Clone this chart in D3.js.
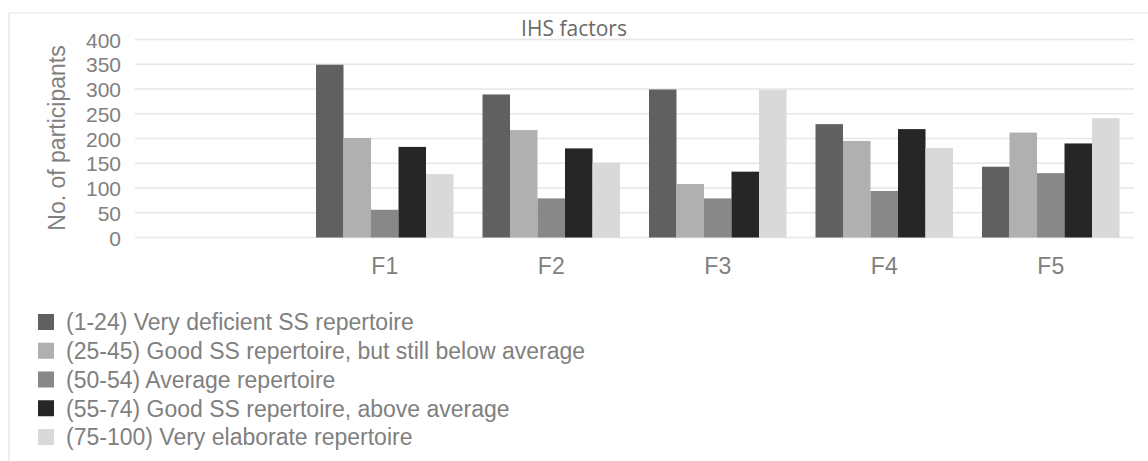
<!DOCTYPE html>
<html>
<head>
<meta charset="utf-8">
<script src="https://cdn.jsdelivr.net/npm/d3@7"></script>
<style>
  html, body { margin: 0; padding: 0; background: #fff; }
  svg { display: block; }
</style>
</head>
<body>
<svg id="chart" width="1148" height="461"></svg>
<script>
// Categories on the x axis (the first slot is left blank on purpose)
const categories = ["", "F1", "F2", "F3", "F4", "F5"];

// Score bands shown in the legend
const seriesNames = [
  "(1-24) Very deficient SS repertoire",
  "(25-45) Good SS repertoire, but still below average",
  "(50-54) Average repertoire",
  "(55-74) Good SS repertoire, above average",
  "(75-100) Very elaborate repertoire"
];

// Number of participants per factor, one array per score band
const veryDeficient   = [null, 349, 289, 299, 229, 143];
const goodBelowAvg    = [null, 201, 217, 108, 195, 212];
const average         = [null, 56, 79, 79, 94, 130];
const goodAboveAvg    = [null, 183, 180, 133, 219, 190];
const veryElaborate   = [null, 128, 151, 298, 181, 241];

const yTicks = [0, 50, 100, 150, 200, 250, 300, 350, 400];

const seriesValues = [veryDeficient, goodBelowAvg, average, goodAboveAvg, veryElaborate];
const seriesColors = ["#606060", "#b0b0b0", "#888888", "#262626", "#d9d9d9"];

const svg = d3.select("#chart");
const textColor = "#808080";
const sans = "'Liberation Sans', Arial, sans-serif";

// Outer chart frame (top and left edges are visible)
svg.append("line").attr("x1", 9).attr("x2", 1148).attr("y1", 13).attr("y2", 13)
  .attr("stroke", "#e3e3e3").attr("stroke-width", 1.2);
svg.append("line").attr("x1", 9).attr("x2", 9).attr("y1", 13).attr("y2", 461)
  .attr("stroke", "#e3e3e3").attr("stroke-width", 1.2);

const plotLeft = 135, plotRight = 1134;
const y = d3.scaleLinear().domain([0, 400]).range([237.5, 39.5]);
const x0 = d3.scaleBand().domain(categories).range([plotLeft, plotRight]).padding(0);
const x1 = d3.scaleBand().domain(d3.range(seriesNames.length))
  .range([14.5, x0.bandwidth() - 14.5]).padding(0);

// Horizontal gridlines
svg.append("g").selectAll("line").data(yTicks).join("line")
  .attr("x1", plotLeft).attr("x2", plotRight)
  .attr("y1", d => y(d)).attr("y2", d => y(d))
  .attr("stroke", "#e6e6e6").attr("stroke-width", 1.6);

// Y tick labels
const yAxis = d3.axisLeft(y).tickValues(yTicks).tickSize(0).tickPadding(0);
const gy = svg.append("g").attr("transform", "translate(121,0)").call(yAxis);
gy.select(".domain").remove();
gy.selectAll("text").attr("fill", textColor).attr("font-family", sans)
  .attr("font-size", 21).attr("dy", "0.36em");

// Y axis title
svg.append("text")
  .attr("transform", "translate(65,138) rotate(-90)")
  .attr("text-anchor", "middle")
  .attr("fill", textColor).attr("font-family", sans).attr("font-size", 23)
  .text("No. of participants");

// Bars
const groups = svg.append("g").selectAll("g").data(categories.slice(1)).join("g")
  .attr("transform", d => `translate(${x0(d)},0)`);
groups.selectAll("rect")
  .data(c => seriesValues.map((vals, i) => ({ i, v: vals[categories.indexOf(c)] })))
  .join("rect")
  .attr("x", d => x1(d.i))
  .attr("width", x1.bandwidth())
  .attr("y", d => y(d.v))
  .attr("height", d => y(0) - y(d.v))
  .attr("fill", d => seriesColors[d.i]);

// X category labels
const xAxis = d3.axisBottom(x0).tickSize(0).tickPadding(0);
const gx = svg.append("g").attr("transform", "translate(0,265.5)").call(xAxis);
gx.select(".domain").remove();
gx.selectAll("text").attr("fill", textColor).attr("font-family", sans)
  .attr("font-size", 23).attr("dy", "0.36em");

// Chart title
svg.append("text")
  .attr("x", 574).attr("y", 28.5).attr("dy", "0.36em")
  .attr("text-anchor", "middle")
  .attr("fill", "#6a6a6a").attr("font-family", "'Open Sans', sans-serif").attr("font-size", 21)
  .text("IHS factors");

// Legend
const legendY = d3.scalePoint().domain(d3.range(seriesNames.length)).range([322, 437]);
const legend = svg.append("g").selectAll("g").data(seriesNames).join("g")
  .attr("transform", (d, i) => `translate(0,${legendY(i)})`);
legend.append("rect").attr("x", 38).attr("y", -8).attr("width", 16).attr("height", 16)
  .attr("fill", (d, i) => seriesColors[i]);
legend.append("text").attr("x", 66).attr("dy", "0.36em")
  .attr("fill", textColor).attr("font-family", sans).attr("font-size", 23)
  .text(d => d);
</script>
</body>
</html>
